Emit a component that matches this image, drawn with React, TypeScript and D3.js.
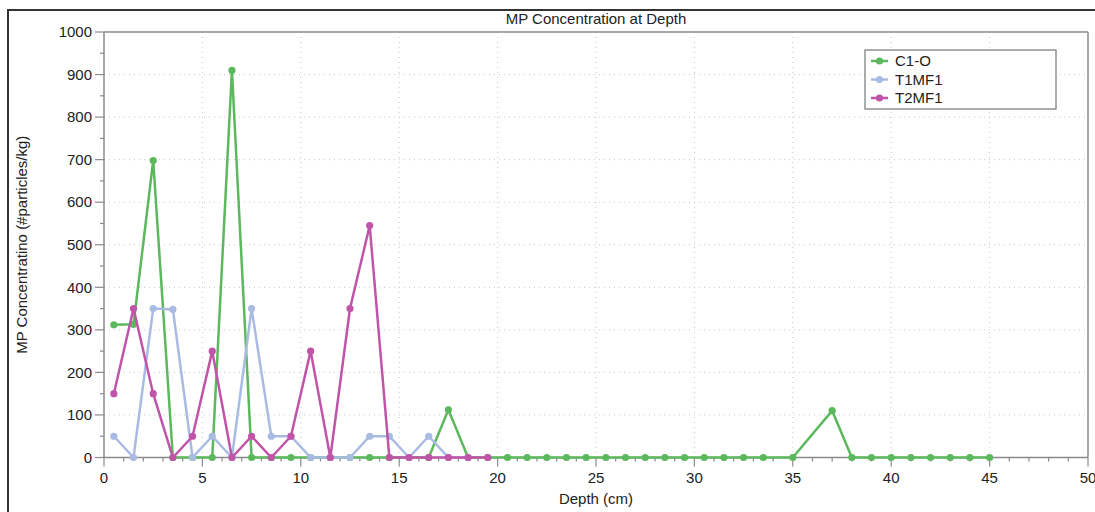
import React from "react";
import * as d3 from "d3";

const seriesNames = ["C1-O", "T1MF1", "T2MF1"];
const seriesColors = ["#5cb85c", "#a9bbe3", "#c154a9"];

const c1Depth = [0.5, 1.5, 2.5, 3.5, 4.5, 5.5, 6.5, 7.5, 8.5, 9.5, 10.5, 11.5, 12.5, 13.5, 14.5, 15.5, 16.5, 17.5, 18.5, 19.5, 20.5, 21.5, 22.5, 23.5, 24.5, 25.5, 26.5, 27.5, 28.5, 29.5, 30.5, 31.5, 32.5, 33.5, 35, 37, 38, 39, 40, 41, 42, 43, 44, 45];
const c1Value = [312, 313, 698, 0, 0, 0, 910, 0, 0, 0, 0, 0, 0, 0, 0, 0, 0, 112, 0, 0, 0, 0, 0, 0, 0, 0, 0, 0, 0, 0, 0, 0, 0, 0, 0, 110, 0, 0, 0, 0, 0, 0, 0, 0];

const t1Depth = [0.5, 1.5, 2.5, 3.5, 4.5, 5.5, 6.5, 7.5, 8.5, 9.5, 10.5, 11.5, 12.5, 13.5, 14.5, 15.5, 16.5, 17.5, 18.5];
const t1Value = [50, 0, 350, 348, 0, 50, 0, 350, 50, 50, 0, 0, 0, 50, 50, 0, 50, 0, 0];

const t2Depth = [0.5, 1.5, 2.5, 3.5, 4.5, 5.5, 6.5, 7.5, 8.5, 9.5, 10.5, 11.5, 12.5, 13.5, 14.5, 15.5, 16.5, 17.5, 18.5, 19.5];
const t2Value = [150, 350, 150, 0, 50, 250, 0, 50, 0, 50, 250, 0, 350, 545, 0, 0, 0, 0, 0, 0];

const xTicks = [0, 5, 10, 15, 20, 25, 30, 35, 40, 45, 50];
const yTicks = [0, 100, 200, 300, 400, 500, 600, 700, 800, 900, 1000];

const W = 1095;
const H = 512;
const left = 104;
const right = 1088;
const top = 32;
const bottom = 457.5;
const font = "'Liberation Sans', Arial, Helvetica, sans-serif";

export default function App() {
  const x = d3.scaleLinear().domain([0, 50]).range([left, right]);
  const y = d3.scaleLinear().domain([0, 1000]).range([bottom, top]);
  const series = [
    { d: c1Depth, v: c1Value },
    { d: t1Depth, v: t1Value },
    { d: t2Depth, v: t2Value },
  ];
  const line = d3
    .line<[number, number]>()
    .x((p) => x(p[0]))
    .y((p) => y(p[1]));
  const xMinor = d3.range(0, 51, 1);
  const yMinor = d3.range(0, 1001, 50);

  return (
    <svg width={W} height={H} style={{ position: "absolute", left: 0, top: 0 }} fontFamily={font}>
      <rect x={0} y={0} width={W} height={H} fill="#fff" />
      <rect x={8} y={10} width={W + 20} height={H + 20} fill="none" stroke="#333" strokeWidth={2} />
      <text x={(left + right) / 2} y={24} textAnchor="middle" fontSize={15} fill="#222">
        MP Concentration at Depth
      </text>
      {xTicks.slice(1, -1).map((t) => (
        <line key={"gx" + t} x1={x(t)} x2={x(t)} y1={top} y2={bottom} stroke="#c8c8c8" strokeDasharray="1,4" />
      ))}
      {yTicks.slice(1, -1).map((t) => (
        <line key={"gy" + t} x1={left} x2={right} y1={y(t)} y2={y(t)} stroke="#c8c8c8" strokeDasharray="1,4" />
      ))}
      <line x1={left} x2={right} y1={top} y2={top} stroke="#8a8a8a" strokeWidth={1.5} />
      <line x1={right} x2={right} y1={top} y2={bottom} stroke="#8a8a8a" strokeWidth={1.5} />
      <line x1={left} x2={right} y1={bottom} y2={bottom} stroke="#8a8a8a" strokeWidth={1.5} />
      <line x1={left} x2={left} y1={top} y2={bottom} stroke="#8a8a8a" strokeWidth={1.5} />
      {yMinor.map((t) => {
        const major = t % 100 === 0;
        return (
          <line key={"yt" + t} x1={left - (major ? 9 : 4)} x2={left} y1={y(t)} y2={y(t)} stroke="#8a8a8a" strokeWidth={1.2} />
        );
      })}
      {yTicks.map((t) => (
        <text key={"yl" + t} x={left - 12} y={y(t)} dy="0.35em" textAnchor="end" fontSize={15} fill="#222">
          {t}
        </text>
      ))}
      {xMinor.map((t) => {
        const major = t % 5 === 0;
        return (
          <line key={"xt" + t} x1={x(t)} x2={x(t)} y1={bottom} y2={bottom + (major ? 9 : 4)} stroke="#8a8a8a" strokeWidth={1.2} />
        );
      })}
      {xTicks.map((t) => (
        <text key={"xl" + t} x={x(t)} y={bottom + 25} textAnchor="middle" fontSize={15} fill="#222">
          {t}
        </text>
      ))}
      <text x={(left + right) / 2} y={504} textAnchor="middle" fontSize={15} fill="#222">
        Depth (cm)
      </text>
      <text
        transform={`translate(27, ${(top + bottom) / 2}) rotate(-90)`}
        textAnchor="middle"
        fontSize={15}
        fill="#222"
      >
        MP Concentratino (#particles/kg)
      </text>
      {series.map((s, i) => {
        const pts: [number, number][] = s.d.map((dv, j) => [dv, s.v[j]]);
        return (
          <g key={"s" + i}>
            <path d={line(pts) || ""} fill="none" stroke={seriesColors[i]} strokeWidth={2.5} strokeLinejoin="miter" />
            {pts.map((p, j) => (
              <circle key={j} cx={x(p[0])} cy={y(p[1])} r={3.6} fill={seriesColors[i]} />
            ))}
          </g>
        );
      })}
      <rect x={865} y={50} width={191} height={59} fill="#fff" stroke="#777" strokeWidth={1.2} />
      {seriesNames.map((n, i) => {
        const ly = 61 + i * 18.5;
        return (
          <g key={"lg" + i}>
            <line x1={871} x2={888} y1={ly} y2={ly} stroke={seriesColors[i]} strokeWidth={2.5} />
            <circle cx={879.5} cy={ly} r={3.6} fill={seriesColors[i]} />
            <text x={895} y={ly} dy="0.35em" fontSize={15} fill="#222">
              {n}
            </text>
          </g>
        );
      })}
    </svg>
  );
}
